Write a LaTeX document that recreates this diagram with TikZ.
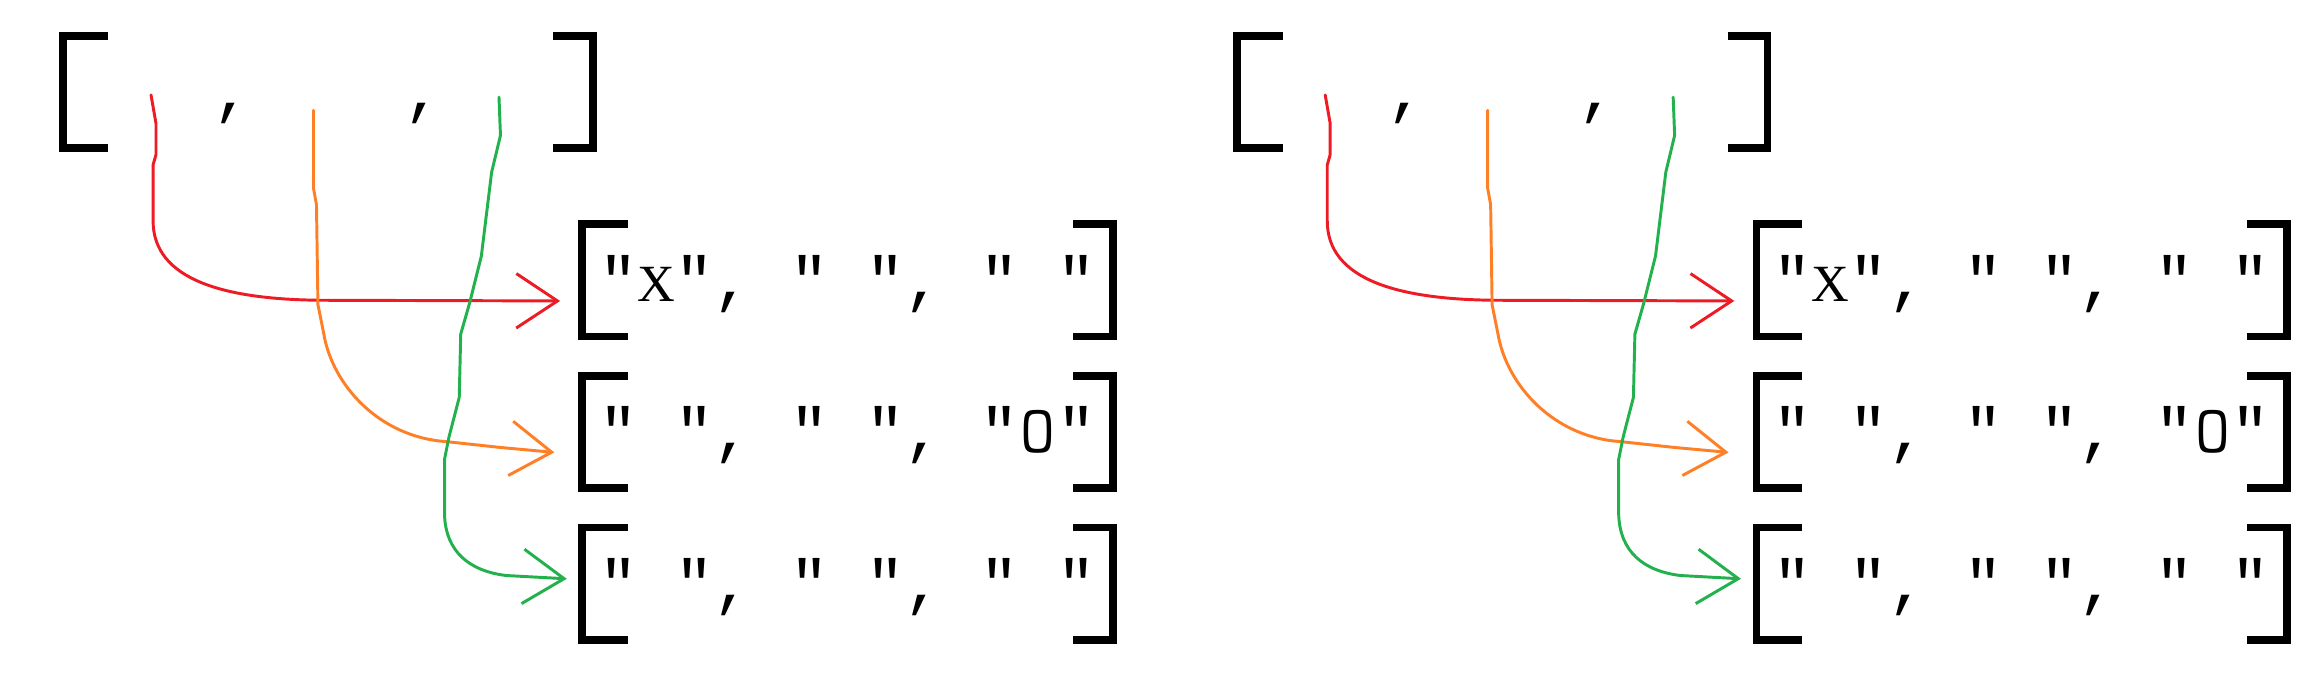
\documentclass[tikz,border=0pt]{standalone}
\usepackage{fontspec}
\setmonofont{Liberation Mono}
\newfontfamily\xfont{Liberation Serif}
\newfontfamily\ofont{Latin Modern Mono}
\usepackage{tikz}
\usetikzlibrary{arrows.meta}
\definecolor{paintred}{RGB}{237, 28, 36}
\definecolor{paintorange}{RGB}{255, 127, 39}
\definecolor{paintgreen}{RGB}{34, 177, 76}
% letters set in one mono cell
\newcommand{\markx}{\makebox[25.92pt]{\xfont\fontsize{35.5}{40}\selectfont X}}
\newcommand{\marko}{\makebox[25.92pt]{\ofont\fontsize{46}{46}\selectfont O}}

\begin{document}
\begin{tikzpicture}[x=1pt, y=1pt, node distance=103pt,
    list/.style={inner sep=0pt, minimum width=360pt, minimum height=76pt,
      text height=32pt, text depth=4pt, font=\ttfamily\fontsize{43.2}{50}\selectfont},
    bracket/.style={line width=5.2pt, line join=miter},
    stroke/.style={line width=2pt, line cap=round, line join=round,
      -{Straight Barb[length=28pt, width=37pt]}}]
  \useasboundingbox (0,0) rectangle (1568,458);
  % the same sketch twice, side by side
  \foreach \h/\dx in {L/0, R/797.7}{
    \begin{scope}[xshift=\dx pt]
      \node (top\h) [list] at (222.8,395.5) {,~~~~,};
      \node (r1\h) [list] at (575.75,267.5) {"\markx",~"~",~"~"};
      \node (r2\h) [list, below of=r1\h] {"~",~"~",~"\marko"};
      \node (r3\h) [list, below of=r2\h] {"~",~"~",~"~"};
      \foreach \lst in {top,r1,r2,r3}{
        \draw[bracket] ([xshift=31pt]\lst\h.north west) -- (\lst\h.north west)
          -- (\lst\h.south west) -- ([xshift=31pt]\lst\h.south west);
        \draw[bracket] ([xshift=-27pt]\lst\h.north east) -- (\lst\h.north east)
          -- (\lst\h.south east) -- ([xshift=-27pt]\lst\h.south east);
      }
      \coordinate (s1\h) at (102.6,393.5);
      \coordinate (s2\h) at (213,383);
      \coordinate (s3\h) at (339,392);
      \draw[stroke, paintred, shorten >=15pt] (s1\h) -- ++(3.4,-19.5) -- ++(0,-21) -- ++(-2,-7) -- ++(0,-38)
        .. controls +(0,-40) and +(-70,0) .. ++(118,-54) -- ([yshift=-14pt]r1\h.west);
      \draw[stroke, paintorange, shorten >=19pt] (s2\h) -- ++(0,-53) -- ++(2,-11) -- ++(1,-68) -- ++(4,-20)
        .. controls +(6,-35) and +(-45,3) .. ++(83,-73) -- ++(37,-4) -- ([yshift=-15.6pt]r2\h.west);
      \draw[stroke, paintgreen, shorten >=10.5pt] (s3\h) -- ++(1,-26) -- ++(-6,-25) -- ++(-7,-57) -- ++(-8,-32)
        -- ++(-6,-21) -- ++(-1,-43) -- ++(-7,-27) -- ++(-3,-15) -- ++(0,-38)
        .. controls +(1,-25) and +(-25,3) .. ++(42,-41) -- ([yshift=2.7pt]r3\h.west);
    \end{scope}
  }
\end{tikzpicture}
\end{document}
